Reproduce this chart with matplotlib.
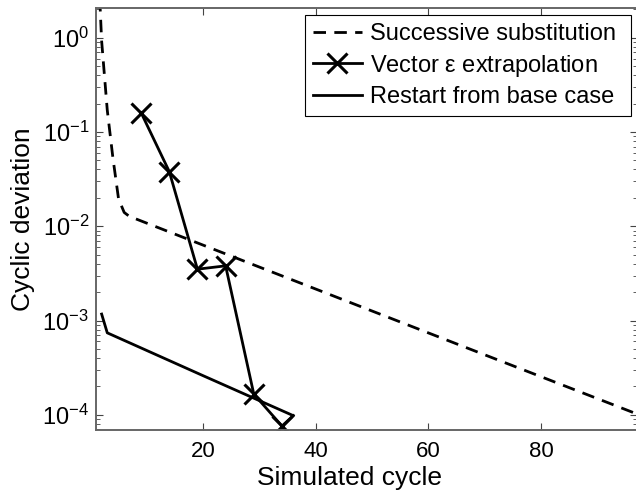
import matplotlib
matplotlib.use("Agg")
import matplotlib.pyplot as plt

# successive substitution (dashed)
subst_cycle = [1, 2, 3, 4, 5, 6, 7, 8, 50, 97]
subst_dev = [20.0, 0.92, 0.17, 0.053, 0.0195, 0.014, 0.0126, 0.012, 0.00126, 0.000102]

# vector epsilon extrapolation, markers at the extrapolation cycles
vec_cycle = [9, 14, 19, 24, 29, 34, 36]
vec_dev = [0.16, 0.038, 0.0035, 0.0038, 0.000166, 0.000076, 0.000098]

# restart from base case
restart_cycle = [2, 3, 20, 36]
restart_dev = [0.00117, 0.00074, 0.00026, 0.000098]

x_ticks = [20, 40, 60, 80]

plt.rcParams['font.family'] = ['Liberation Sans', 'DejaVu Sans']
plt.rcParams['mathtext.fontset'] = 'custom'
plt.rcParams['mathtext.rm'] = 'Liberation Sans'
plt.rcParams['mathtext.it'] = 'Liberation Sans:italic'


def make_plot():
    fig = plt.figure(figsize=(6.36, 4.97), dpi=100)
    ax = fig.add_axes([96 / 636, 67 / 497, 541 / 636, 422 / 497])

    ax.semilogy(subst_cycle, subst_dev, color='black', lw=2.0,
                dashes=(4.5, 3), label='Successive substitution')
    ax.semilogy(vec_cycle, vec_dev, color='black', lw=2.0, marker='x',
                markersize=14, mew=2.2, markevery=[0, 1, 2, 3, 4, 5],
                label=r'Vector $\mathrm{\varepsilon}$ extrapolation')
    ax.semilogy(restart_cycle, restart_dev, color='black', lw=2.0,
                label='Restart from base case')

    ax.set_xlim(1, 97)
    ax.set_ylim(6.9e-5, 2.06)
    ax.set_xticks(x_ticks)

    for side in ax.spines.values():
        side.set_color('#666666')
        side.set_linewidth(1.4)
    ax.tick_params(which='both', direction='in', top=True, right=True,
                   color='#444444', labelsize=16)
    ax.tick_params(which='major', length=5, width=0.8)
    ax.tick_params(which='minor', length=3, width=0.6)
    ax.tick_params(axis='x', pad=8)
    ax.tick_params(axis='y', pad=5, labelsize=17)

    ax.set_xlabel('Simulated cycle', fontsize=19)
    ax.set_ylabel('Cyclic deviation', fontsize=19)
    ax.xaxis.set_label_coords(0.469, -0.085)
    ax.yaxis.set_label_coords(-0.112, 0.5)

    # box edges: x 305..631 px, top at 15 px
    leg = ax.legend(loc='upper right', mode='expand',
                    bbox_to_anchor=(0.386, 0.0, 0.603, 0.983),
                    borderaxespad=0, fontsize=17, handlelength=2.1,
                    handletextpad=0.35, labelspacing=0.32, borderpad=0.33,
                    fancybox=False, framealpha=1)
    leg.get_frame().set_edgecolor('black')
    leg.get_frame().set_linewidth(0.8)

    fig.savefig('out.png', dpi=100)


if __name__ == "__main__":
    make_plot()
